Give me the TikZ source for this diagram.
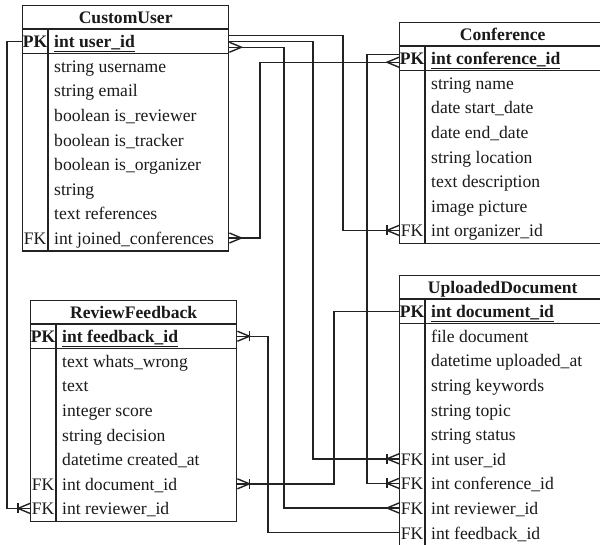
\documentclass[tikz,border=0pt]{standalone}
\usepackage{fontspec}
\setmainfont{Liberation Serif}
\usetikzlibrary{calc}

\definecolor{linec}{HTML}{222222}
\definecolor{textc}{HTML}{1A1A1A}

\tikzset{
  ln/.style={draw=linec, line width=1.4pt},
  base/.style={inner sep=0pt, text height=16pt, text depth=3pt, text=textc,
               font=\fontsize{17.6}{20}\selectfont},
  fld/.style={base, anchor=west},
  pkfld/.style={fld, font=\fontsize{17.6}{20}\selectfont\bfseries},
  keyc/.style={base},
  pkkey/.style={base, font=\fontsize{17.6}{20}\selectfont\bfseries},
  ttl/.style={base, font=\fontsize{17.6}{20}\selectfont\bfseries},
  frame/.style={draw=linec, line width=1.4pt, anchor=north west,
                minimum width=206pt, inner sep=0pt},
  % many / one-or-many end marks, drawn outward from a table edge
  pics/crow/.style={code={\draw[ln] (0,5) -- (12,0) -- (0,-5);}},
  pics/crowbar/.style={code={\draw[ln] (0,5) -- (12,0) -- (0,-5);
                             \draw[ln] (12,5) -- (12,-5);}},
}

% entity table: name, left, top, title, key field, rows {key/text,...}, row count
\newcommand\ertable[7]{%
  \node[frame, minimum height={48.5+#7*24.6}] (#1) at (#2,#3) {};
  \node[ttl] (#1-t) at ($(#1.north)+(0,12)$) {#4};
  \draw[ln] ($(#1.north west)+(0,24)$) -- ($(#1.north east)+(0,24)$);
  \draw[ln] ($(#1.north west)+(0,48.5)$) -- ($(#1.north east)+(0,48.5)$);
  \draw[ln] ($(#1.north west)+(26,24)$) -- ($(#1.south west)+(26,0)$);
  \node[pkkey] (#1-pkk) at ($(#1.north west)+(13,36.25)$) {PK};
  \node[pkfld] (#1-pk) at ($(#1.north west)+(32,36.25)$) {\underline{#5}};
  \foreach \k/\t [count=\i] in {#6} {
    \node[fld] (#1-\i) at ($(#1.north west)+(32,{48.5+(\i-0.5)*24.6})$) {\t};
    \node[keyc] (#1-k\i) at ($(#1.north west)+(13,{48.5+(\i-0.5)*24.6})$) {\k};
  }%
}

\begin{document}
\begin{tikzpicture}[x=1pt, y=-1pt]
  \useasboundingbox (0,0) rectangle (600,544);
  \clip (0,0) rectangle (600,544);
  \fill[white] (0,0) rectangle (600,544);

  \ertable{cu}{22}{5}{CustomUser}{int user\_id}{
    /string username, /string email, /boolean is\_reviewer,
    /boolean is\_tracker, /boolean is\_organizer, /string,
    /text references, FK/int joined\_conferences}{8}

  \ertable{cf}{399}{22}{Conference}{int conference\_id}{
    /string name, /date start\_date, /date end\_date, /string location,
    /text description, /image picture, FK/int organizer\_id}{7}

  \ertable{rf}{30}{300}{ReviewFeedback}{int feedback\_id}{
    /text whats\_wrong, /text, /integer score, /string decision,
    /datetime created\_at, FK/int document\_id, FK/int reviewer\_id}{7}

  \ertable{ud}{399}{275}{UploadedDocument}{int document\_id}{
    /file document, /datetime uploaded\_at, /string keywords,
    /string topic, /string status, FK/int user\_id,
    FK/int conference\_id, FK/int reviewer\_id, FK/int feedback\_id}{9}

  % vertical runs of the connectors
  \coordinate (b1) at (343,0);
  \coordinate (b2) at (313,0);
  \coordinate (b3) at (284,0);
  \coordinate (b4) at (367,0);
  \coordinate (b5) at (260,0);
  \coordinate (b6) at (7,0);
  \coordinate (b7) at (268,0);
  \coordinate (b8) at (334,0);

  % CustomUser.user_id -> Conference.organizer_id
  \draw[ln] ($(cu.east |- cu-pk)+(0,-6)$) -| (b1 |- cf-7) -- (cf.west |- cf-7);
  \pic[rotate=180] at (cf.west |- cf-7) {crowbar};

  % CustomUser.user_id -> UploadedDocument.user_id
  \draw[ln] (cu.east |- cu-pk) -| (b2 |- ud-6) -- (ud.west |- ud-6);
  \pic[rotate=180] at (ud.west |- ud-6) {crowbar};

  % CustomUser.user_id -> UploadedDocument.reviewer_id
  \draw[ln] ($(cu.east |- cu-pk)+(0,6)$) -| (b3 |- ud-8) -- (ud.west |- ud-8);
  \pic at ($(cu.east |- cu-pk)+(0,6)$) {crow};
  \pic[rotate=180] at (ud.west |- ud-8) {crow};

  % Conference.conference_id -> UploadedDocument.conference_id
  \draw[ln] ($(cf.west |- cf-pk)+(0,-4)$) -| (b4 |- ud-7) -- (ud.west |- ud-7);
  \pic[rotate=180] at (ud.west |- ud-7) {crowbar};

  % Conference.conference_id -> CustomUser.joined_conferences
  \draw[ln] ($(cf.west |- cf-pk)+(0,4)$) -| (b5 |- cu-8) -- (cu.east |- cu-8);
  \pic[rotate=180] at ($(cf.west |- cf-pk)+(0,4)$) {crow};
  \pic at (cu.east |- cu-8) {crow};

  % CustomUser.user_id -> ReviewFeedback.reviewer_id
  \draw[ln] (cu.west |- cu-pk) -| (b6 |- rf-7) -- (rf.west |- rf-7);
  \pic[rotate=180] at (rf.west |- rf-7) {crowbar};

  % ReviewFeedback.feedback_id -> UploadedDocument.feedback_id
  \draw[ln] (rf.east |- rf-pk) -| (b7 |- ud-9) -- (ud.west |- ud-9);
  \pic at (rf.east |- rf-pk) {crowbar};

  % UploadedDocument.document_id -> ReviewFeedback.document_id
  \draw[ln] (rf.east |- rf-6) -| (b8 |- ud-pk) -- (ud.west |- ud-pk);
  \pic at (rf.east |- rf-6) {crowbar};
\end{tikzpicture}
\end{document}
